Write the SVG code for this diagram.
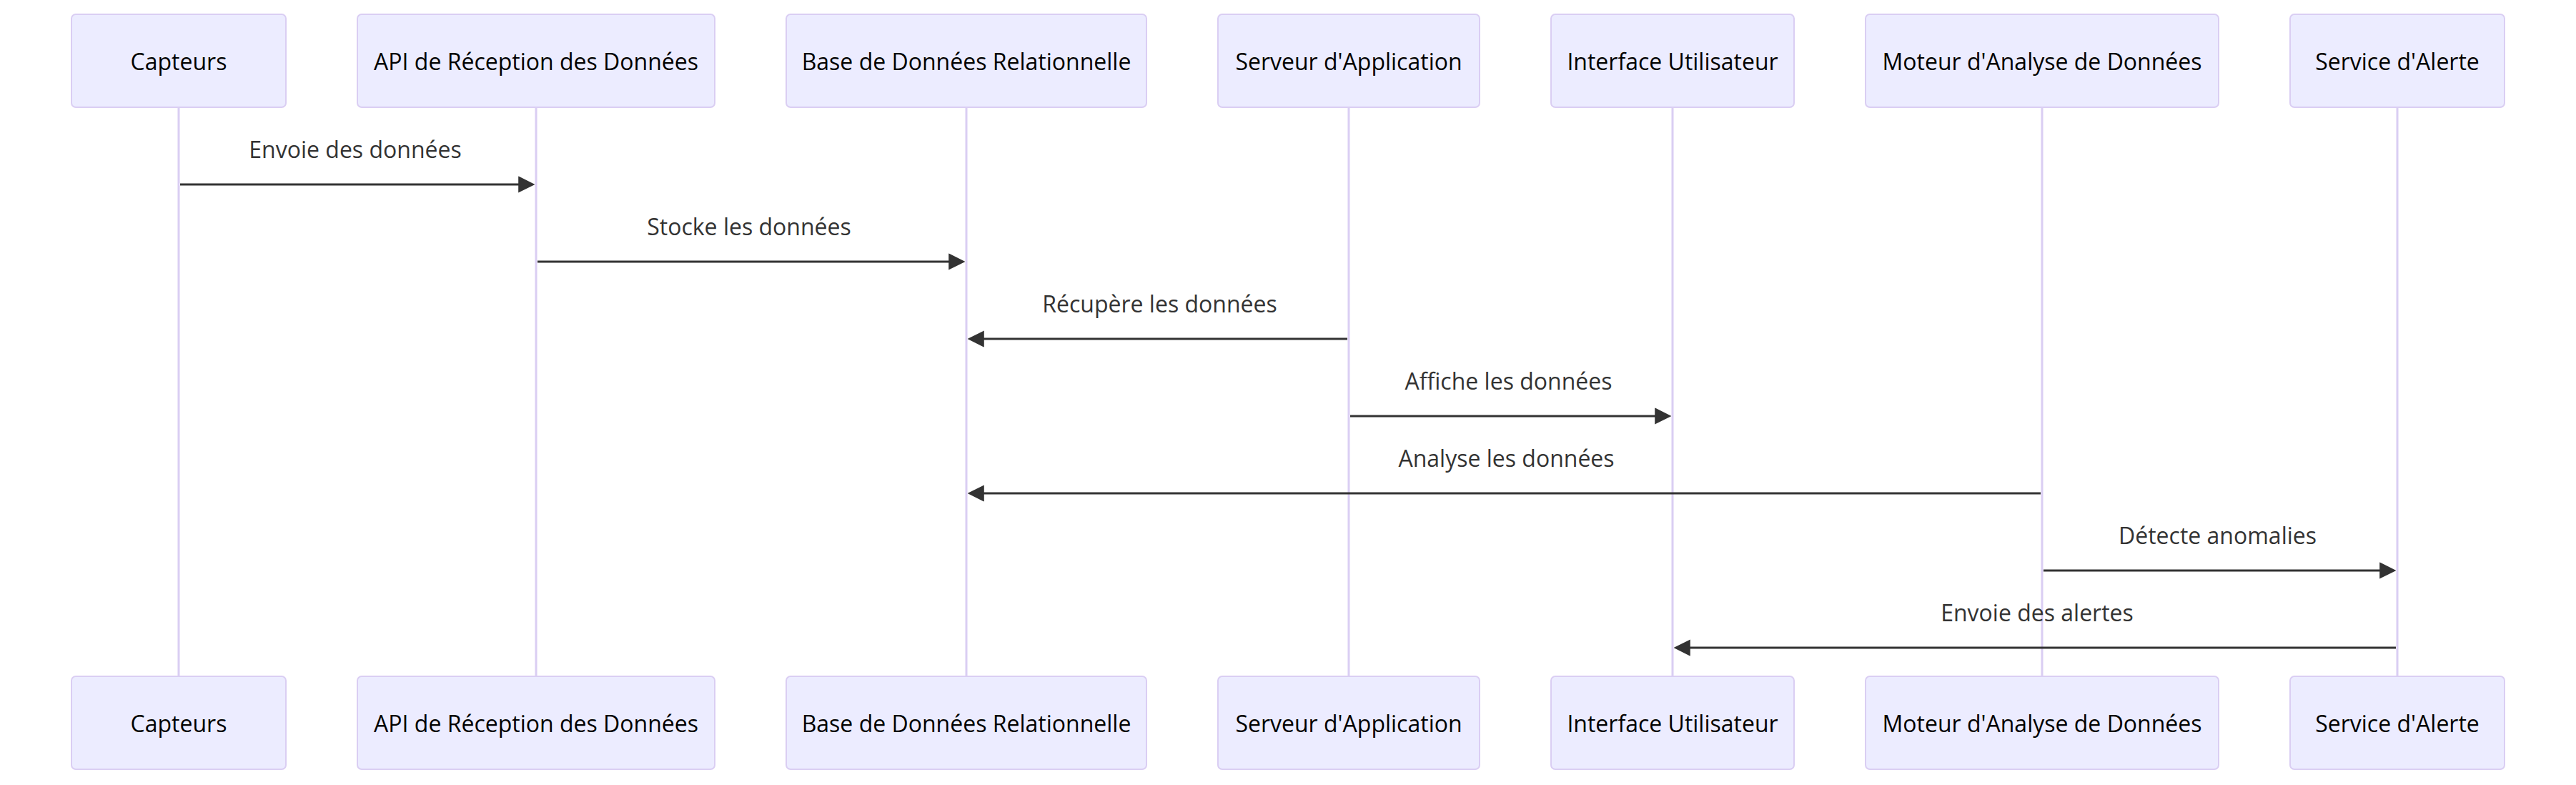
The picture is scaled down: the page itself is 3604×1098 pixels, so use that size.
<svg xmlns="http://www.w3.org/2000/svg" width="3604" height="1098" viewBox="0 0 3604 1098">
<style>
.actor{fill:#ECECFF;stroke:hsl(259.6,59.8%,87.9%);stroke-width:2}
.atext{font-family:"Open Sans","Noto Sans",sans-serif;font-size:32px;fill:#000;text-anchor:middle;dominant-baseline:central}
.lifeline{stroke:hsl(259.6,59.8%,87.9%);stroke-width:3}
.msg{stroke:#333;stroke-width:3;fill:none;marker-end:url(#arrowhead)}
.mtext{font-family:"Open Sans","Noto Sans",sans-serif;font-size:32px;fill:#333;text-anchor:middle}
</style>
<defs>
<marker id="arrowhead" markerUnits="userSpaceOnUse" markerWidth="24" markerHeight="24" viewBox="-1 -1 12 12" refX="7.9" refY="5" orient="auto">
<path d="M 0 0 L 10 5 L 0 10 z" fill="#333" stroke="#333" stroke-width="1"/>
</marker>
</defs>
<rect x="0" y="0" width="3604" height="1098" fill="#fff"/>
<g id="lifelines">
<line class="lifeline" x1="250" y1="150" x2="250" y2="946"/>
<line class="lifeline" x1="750" y1="150" x2="750" y2="946"/>
<line class="lifeline" x1="1352" y1="150" x2="1352" y2="946"/>
<line class="lifeline" x1="1887" y1="150" x2="1887" y2="946"/>
<line class="lifeline" x1="2340" y1="150" x2="2340" y2="946"/>
<line class="lifeline" x1="2857" y1="150" x2="2857" y2="946"/>
<line class="lifeline" x1="3354" y1="150" x2="3354" y2="946"/>
</g>
<g id="capteurs">
<rect class="actor" x="100" y="20" width="300" height="130" rx="6"/>
<text class="atext" x="250" y="85">Capteurs</text>
<rect class="actor" x="100" y="946" width="300" height="130" rx="6"/>
<text class="atext" x="250" y="1011">Capteurs</text>
</g>
<g id="api">
<rect class="actor" x="500" y="20" width="500" height="130" rx="6"/>
<text class="atext" x="750" y="85">API de Réception des Données</text>
<rect class="actor" x="500" y="946" width="500" height="130" rx="6"/>
<text class="atext" x="750" y="1011">API de Réception des Données</text>
</g>
<g id="base">
<rect class="actor" x="1100" y="20" width="504" height="130" rx="6"/>
<text class="atext" x="1352" y="85">Base de Données Relationnelle</text>
<rect class="actor" x="1100" y="946" width="504" height="130" rx="6"/>
<text class="atext" x="1352" y="1011">Base de Données Relationnelle</text>
</g>
<g id="serveur">
<rect class="actor" x="1704" y="20" width="366" height="130" rx="6"/>
<text class="atext" x="1887" y="85">Serveur d'Application</text>
<rect class="actor" x="1704" y="946" width="366" height="130" rx="6"/>
<text class="atext" x="1887" y="1011">Serveur d'Application</text>
</g>
<g id="interface">
<rect class="actor" x="2170" y="20" width="340" height="130" rx="6"/>
<text class="atext" x="2340" y="85">Interface Utilisateur</text>
<rect class="actor" x="2170" y="946" width="340" height="130" rx="6"/>
<text class="atext" x="2340" y="1011">Interface Utilisateur</text>
</g>
<g id="moteur">
<rect class="actor" x="2610" y="20" width="494" height="130" rx="6"/>
<text class="atext" x="2857" y="85">Moteur d'Analyse de Données</text>
<rect class="actor" x="2610" y="946" width="494" height="130" rx="6"/>
<text class="atext" x="2857" y="1011">Moteur d'Analyse de Données</text>
</g>
<g id="service">
<rect class="actor" x="3204" y="20" width="300" height="130" rx="6"/>
<text class="atext" x="3354" y="85">Service d'Alerte</text>
<rect class="actor" x="3204" y="946" width="300" height="130" rx="6"/>
<text class="atext" x="3354" y="1011">Service d'Alerte</text>
</g>
<g id="connectors">
<text class="mtext" x="497" y="221">Envoie des données</text>
<line class="msg" x1="252" y1="258" x2="742" y2="258"/>
<text class="mtext" x="1048" y="329">Stocke les données</text>
<line class="msg" x1="752" y1="366" x2="1344" y2="366"/>
<text class="mtext" x="1622.5" y="437">Récupère les données</text>
<line class="msg" x1="1885" y1="474" x2="1360" y2="474"/>
<text class="mtext" x="2110.5" y="545">Affiche les données</text>
<line class="msg" x1="1889" y1="582" x2="2332" y2="582"/>
<text class="mtext" x="2107.5" y="653">Analyse les données</text>
<line class="msg" x1="2855" y1="690" x2="1360" y2="690"/>
<text class="mtext" x="3102.5" y="761">Détecte anomalies</text>
<line class="msg" x1="2859" y1="798" x2="3346" y2="798"/>
<text class="mtext" x="2850" y="869">Envoie des alertes</text>
<line class="msg" x1="3352" y1="906" x2="2348" y2="906"/>
</g>
</svg>
